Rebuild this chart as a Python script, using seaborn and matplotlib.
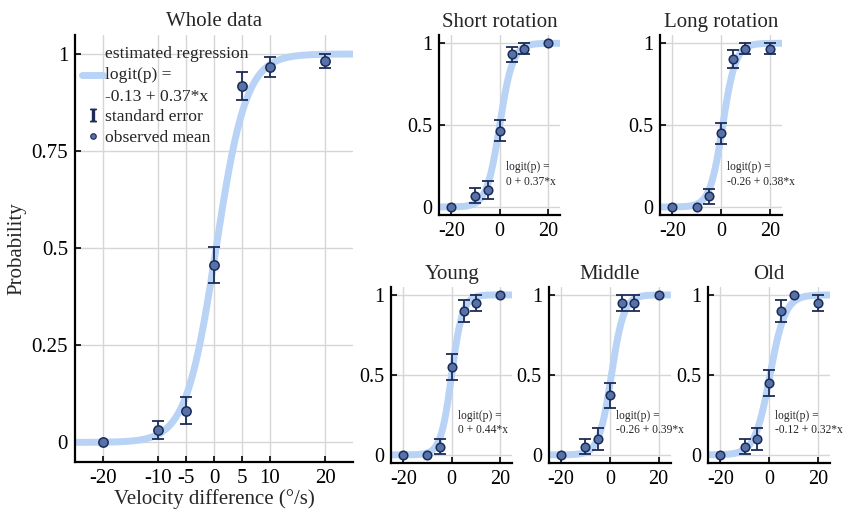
import numpy as np
import pandas as pd
import matplotlib
matplotlib.use("Agg")
import matplotlib.pyplot as plt
import seaborn as sns
from matplotlib.lines import Line2D

# velocity differences (deg/s)
velocity = [-20, -10, -5, 0, 5, 10, 20]

# observed means and standard errors per group
whole_mean = [0.0, 0.032, 0.082, 0.457, 0.917, 0.966, 0.982]
whole_se = [0.0, 0.024, 0.034, 0.046, 0.036, 0.026, 0.017]

short_mean = [0.0, 0.068, 0.102, 0.467, 0.932, 0.967, 1.0]
short_se = [0.0, 0.046, 0.054, 0.064, 0.045, 0.034, 0.0]

long_mean = [0.0, 0.0, 0.066, 0.449, 0.902, 0.967, 0.967]
long_se = [0.0, 0.0, 0.046, 0.064, 0.054, 0.034, 0.034]

young_mean = [0.0, 0.0, 0.05, 0.548, 0.90, 0.95, 1.0]
young_se = [0.0, 0.0, 0.047, 0.080, 0.068, 0.048, 0.0]

middle_mean = [0.0, 0.05, 0.098, 0.374, 0.95, 0.95, 1.0]
middle_se = [0.0, 0.047, 0.068, 0.078, 0.048, 0.048, 0.0]

old_mean = [0.0, 0.05, 0.098, 0.45, 0.90, 1.0, 0.95]
old_se = [0.0, 0.047, 0.068, 0.080, 0.068, 0.0, 0.048]

# fitted logistic regression coefficients: logit(p) = b0 + b1*x
intercepts = [-0.13, 0.0, -0.26, 0.0, -0.26, -0.12]
slopes = [0.37, 0.37, 0.38, 0.44, 0.39, 0.32]

titles = ["Whole data", "Short rotation", "Long rotation", "Young", "Middle", "Old"]
equations = ["logit(p) =\n-0.13 + 0.37*x", "logit(p) =\n0 + 0.37*x",
             "logit(p) =\n-0.26 + 0.38*x", "logit(p) =\n0 + 0.44*x",
             "logit(p) =\n-0.26 + 0.39*x", "logit(p) =\n-0.12 + 0.32*x"]

CURVE = "#b8d3f5"
FILL = "#5672a8"
EDGE = "#1c2c58"

sns.set_style("ticks")
plt.rcParams['font.family'] = ['Liberation Serif', 'DejaVu Serif']
plt.rcParams['mathtext.fontset'] = 'stix'


def draw_panel(ax, means, ses, b0, b1, title, xticks, yticks, ylabels,
               tick_size, marker_size):
    grid = np.linspace(-25, 25, 301)
    curve = pd.DataFrame({'x': grid, 'p': 1 / (1 + np.exp(-(b0 + b1 * grid)))})
    sns.lineplot(data=curve, x='x', y='p', ax=ax, color=CURVE, linewidth=5,
                 solid_capstyle='butt', zorder=2)

    obs = pd.DataFrame({'x': velocity, 'm': means, 'se': ses})
    has_err = obs[obs.se > 0]
    ax.errorbar(has_err.x, has_err.m, yerr=has_err.se, fmt='none',
                ecolor=EDGE, elinewidth=1.3, capsize=4, capthick=1.3, zorder=3)
    sns.scatterplot(data=obs, x='x', y='m', ax=ax, color=FILL, edgecolor=EDGE,
                    linewidth=1.1, s=marker_size, zorder=4)

    ax.set_xlim(-25, 25)
    ax.set_ylim(-0.05, 1.05)
    ax.set_xticks(xticks)
    ax.set_xticklabels([str(t) for t in xticks])
    ax.set_yticks(yticks)
    ax.set_yticklabels(ylabels)
    ax.grid(True, color='#d6d6d6', linewidth=1.0)
    ax.set_axisbelow(True)
    ax.tick_params(direction='in', length=4, width=1.2, labelsize=tick_size,
                   colors='black', pad=5)
    for side in ['left', 'bottom']:
        ax.spines[side].set_linewidth(1.6)
        ax.spines[side].set_color('black')
    sns.despine(ax=ax)
    ax.set_title(title, fontsize=15, pad=6)
    ax.set_xlabel("")
    ax.set_ylabel("")


fig = plt.figure(figsize=(8.43, 5.16), dpi=100)

# positions in figure fraction
boxes = [
    [0.089, 0.105, 0.330, 0.828],
    [0.521, 0.583, 0.1435, 0.349],
    [0.783, 0.583, 0.1447, 0.349],
    [0.464, 0.103, 0.1435, 0.341],
    [0.651, 0.103, 0.1447, 0.341],
    [0.840, 0.103, 0.1447, 0.341],
]
all_means = [whole_mean, short_mean, long_mean, young_mean, middle_mean, old_mean]
all_ses = [whole_se, short_se, long_se, young_se, middle_se, old_se]

axes = [fig.add_axes(b) for b in boxes]

# main panel
ax0 = axes[0]
draw_panel(ax0, whole_mean, whole_se, intercepts[0], slopes[0], titles[0],
           velocity, [0, 0.25, 0.5, 0.75, 1], ["0", "0.25", "0.5", "0.75", "1"],
           15, 45)
ax0.set_xlabel("Velocity difference (°/s)", fontsize=15, labelpad=1)
ax0.set_ylabel("Probability", fontsize=15, labelpad=4)

handles = [
    Line2D([], [], color=CURVE, linewidth=5),
    Line2D([], [], color=EDGE, marker=r'$\mathrm{I}$', markersize=9, linestyle='none'),
    Line2D([], [], color=FILL, marker='o', markersize=4, markeredgecolor=EDGE,
           markeredgewidth=0.8, linestyle='none'),
]
labels = ["estimated regression\n" + equations[0], "standard error", "observed mean"]
leg = ax0.legend(handles, labels, loc='upper left', frameon=False, fontsize=12.6,
                 handlelength=1.2, handletextpad=0.1, borderaxespad=0.0,
                 labelspacing=0.25, bbox_to_anchor=(0.0, 0.99))
for t in leg.get_texts():
    t.set_linespacing(1.45)

# small panels
for i in range(1, 6):
    ax = axes[i]
    draw_panel(ax, all_means[i], all_ses[i], intercepts[i], slopes[i], titles[i],
               [-20, 0, 20], [0, 0.5, 1], ["0", "0.5", "1"], 14.5, 38)
    ax.text(2.5, 0.2, equations[i], fontsize=8.3, ha='left', va='center',
            linespacing=1.3)

fig.savefig("out.png", dpi=100)
